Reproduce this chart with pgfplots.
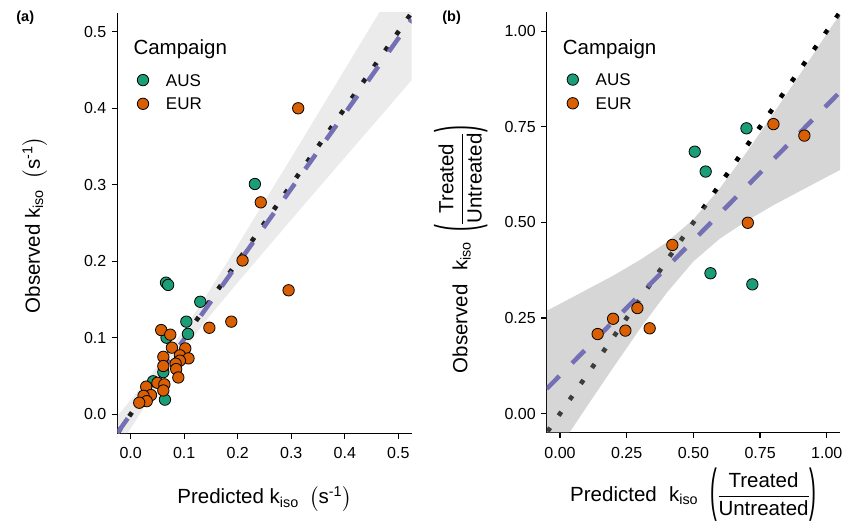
\documentclass[border=0pt]{standalone}
\usepackage{amsmath}
\usepackage{graphicx}
\usepackage{fontspec}
\setmainfont{Liberation Sans}
\usepackage{pgfplots}
\pgfplotsset{compat=1.18}

\definecolor{aus}{HTML}{1B9E77}
\definecolor{eur}{HTML}{D95F02}
\definecolor{fitc}{HTML}{7570B3}
\definecolor{grey60}{HTML}{999999}

\newcommand{\lpar}{\raisebox{-8.1pt}{\scalebox{1}[2.8]{(}}}
\newcommand{\rpar}{\raisebox{-8.1pt}{\scalebox{1}[2.8]{)}}}

\pgfplotsset{
  panel/.style={
    scale only axis, anchor=south west,
    axis lines=left, axis line style={-, line width=1.3pt, black},
    tick align=outside, major tick length=5.5pt,
    every tick/.style={black, line width=1.3pt},
    tick label style={font=\fontsize{16}{19}\selectfont, text=black, inner sep=0pt},
    xticklabel style={yshift=-8.8pt},
    yticklabel style={xshift=-5.3pt},
    /pgf/number format/assume math mode=true,
    legend cell align=left,
    legend image code/.code={\draw[##1] plot coordinates {(0pt,0pt)};},
    legend style={draw=none, fill=none, inner sep=0pt, anchor=north west,
      font=\fontsize{17}{20}\selectfont, row sep=11.5pt, column sep=17.2pt,
      nodes={inner sep=0pt, text height=12.2pt, text depth=0pt}},
  },
  campaign/.style={only marks, mark=*, mark size=5.7pt,
    mark options={draw=black, line width=0.8pt, fill=#1}},
  onetoone/.style={black, line width=4.6pt, dash pattern=on 4.6pt off 14.8pt, dash phase=17.96pt, forget plot},
  fitline/.style={fitc, line width=4.5pt, dash pattern=on 18pt off 18pt, forget plot},
}

\begin{document}
\begin{tikzpicture}
\useasboundingbox (0,0) rectangle (846pt,522pt);

% ---------------- panel (a)
\begin{axis}[panel, at={(117.3pt,88.7pt)}, width=294.4pt, height=420.6pt,
  xmin=-0.025, xmax=0.525, ymin=-0.025, ymax=0.525,
  xtick={0,0.1,0.2,0.3,0.4,0.5}, xticklabels={0.0,0.1,0.2,0.3,0.4,0.5},
  ytick={0,0.1,0.2,0.3,0.4,0.5}, yticklabels={0.0,0.1,0.2,0.3,0.4,0.5},
  xlabel={Predicted~$\text{k}_{\text{iso}}$\hspace{0.5em}$\left(\text{s}^{\text{-1}}\right)$},
  ylabel={Observed~$\text{k}_{\text{iso}}$\hspace{0.5em}$\left(\text{s}^{\text{-1}}\right)$},
  every axis x label/.style={at={(axis description cs:0.5,-0.168)}, anchor=base, inner sep=0pt, font=\fontsize{20.5}{24}\selectfont},
  every axis y label/.style={at={(axis description cs:-0.2626,0.495)}, rotate=90, anchor=base, inner sep=0pt, font=\fontsize{20.5}{24}\selectfont},
  legend style={at={(axis description cs:0.0673,0.8547)}},
]
\addplot[onetoone] coordinates {(-0.025,-0.025) (0.525,0.525)};
\addplot[draw=none, fill=grey60, fill opacity=0.2, forget plot] coordinates {
  (-0.025,-0.0026) (0,0.0185) (0.05,0.0623) (0.1,0.1108) (0.15,0.1647) (0.2,0.2209)
  (0.3,0.3354) (0.4,0.4508) (0.5,0.5664) (0.525,0.5950)
  (0.525,0.4370) (0.5,0.4166) (0.4,0.3356) (0.3,0.2544) (0.2,0.1723) (0.15,0.1303)
  (0.1,0.0858) (0.05,0.0361) (0,-0.0185) (-0.025,-0.0466)} --cycle;
\addplot[fitline] coordinates {(-0.025,-0.0246) (0.525,0.516)};
\addplot[campaign=aus] coordinates {
  (0.066,0.172) (0.070,0.169) (0.232,0.301) (0.130,0.147) (0.104,0.121)
  (0.107,0.105) (0.067,0.100) (0.061,0.055) (0.042,0.043) (0.064,0.019)};
\addlegendentry{AUS}
\addplot[campaign=eur] coordinates {
  (0.313,0.400) (0.243,0.277) (0.209,0.201) (0.295,0.162) (0.188,0.121)
  (0.147,0.113) (0.057,0.110) (0.074,0.104) (0.077,0.087) (0.102,0.086)
  (0.092,0.077) (0.108,0.073) (0.061,0.075) (0.092,0.070) (0.084,0.066)
  (0.061,0.063) (0.085,0.059) (0.089,0.048) (0.050,0.041) (0.063,0.039)
  (0.029,0.036) (0.061,0.031) (0.038,0.025) (0.024,0.024) (0.030,0.017)
  (0.016,0.015)};
\addlegendentry{EUR}
\end{axis}

% ---------------- panel (b)
\begin{axis}[panel, at={(546.7pt,89.3pt)}, width=293.4pt, height=420.6pt,
  xmin=-0.05, xmax=1.05, ymin=-0.05, ymax=1.05,
  xtick={0,0.25,0.5,0.75,1}, xticklabels={0.00,0.25,0.50,0.75,1.00},
  ytick={0,0.25,0.5,0.75,1}, yticklabels={0.00,0.25,0.50,0.75,1.00},
  xlabel={Predicted\hspace{0.6em}$\text{k}_{\text{iso}}$\hspace{0.6em}\lpar$\dfrac{\text{Treated}}{\text{Untreated}}$\rpar},
  ylabel={Observed\hspace{0.65em}$\text{k}_{\text{iso}}$\hspace{0.5em}\lpar$\dfrac{\text{Treated}}{\text{Untreated}}$\rpar},
  every axis x label/.style={at={(axis description cs:0.5,-0.164)}, anchor=base, inner sep=0pt, font=\fontsize{20.5}{24}\selectfont},
  every axis y label/.style={at={(axis description cs:-0.270,0.436)}, rotate=90, anchor=base, inner sep=0pt, font=\fontsize{20.5}{24}\selectfont},
  legend style={at={(axis description cs:0.0688,0.8545)}},
]
\addplot[onetoone] coordinates {(-0.05,-0.05) (1.05,1.05)};
\addplot[draw=none, fill=grey60, fill opacity=0.4, forget plot] coordinates {
  (-0.05,0.269) (0,0.287) (0.1,0.324) (0.2,0.361) (0.3,0.402) (0.4,0.448) (0.5,0.508)
  (0.6,0.590) (0.7,0.684) (0.8,0.785) (0.9,0.888) (1.0,0.993) (1.05,1.045)
  (1.05,0.637) (1.0,0.619) (0.9,0.582) (0.8,0.545) (0.7,0.504) (0.6,0.458) (0.5,0.398)
  (0.4,0.316) (0.3,0.222) (0.2,0.121) (0.1,0.018) (0,-0.087) (-0.05,-0.139)} --cycle;
\addplot[fitline] coordinates {(-0.05,0.0647) (1.05,0.8413)};
\addplot[campaign=aus] coordinates {
  (0.699,0.746) (0.505,0.685) (0.546,0.633) (0.564,0.367) (0.721,0.338)};
\addlegendentry{AUS}
\addplot[campaign=eur] coordinates {
  (0.800,0.757) (0.916,0.727) (0.704,0.499) (0.421,0.441) (0.290,0.276)
  (0.199,0.248) (0.245,0.217) (0.336,0.223) (0.141,0.208)};
\addlegendentry{EUR}
\end{axis}

% legend titles and panel tags
\node[anchor=base west, inner sep=0pt, font=\fontsize{20.5}{24}\selectfont] at (133.3pt,467pt) {Campaign};
\node[anchor=base west, inner sep=0pt, font=\fontsize{20.5}{24}\selectfont] at (562.7pt,467pt) {Campaign};
\node[anchor=base west, inner sep=0pt, font=\fontsize{14.5}{17}\selectfont\bfseries] at (16.2pt,500pt) {(a)};
\node[anchor=base west, inner sep=0pt, font=\fontsize{14.5}{17}\selectfont\bfseries] at (442.2pt,500pt) {(b)};
\end{tikzpicture}
\end{document}
